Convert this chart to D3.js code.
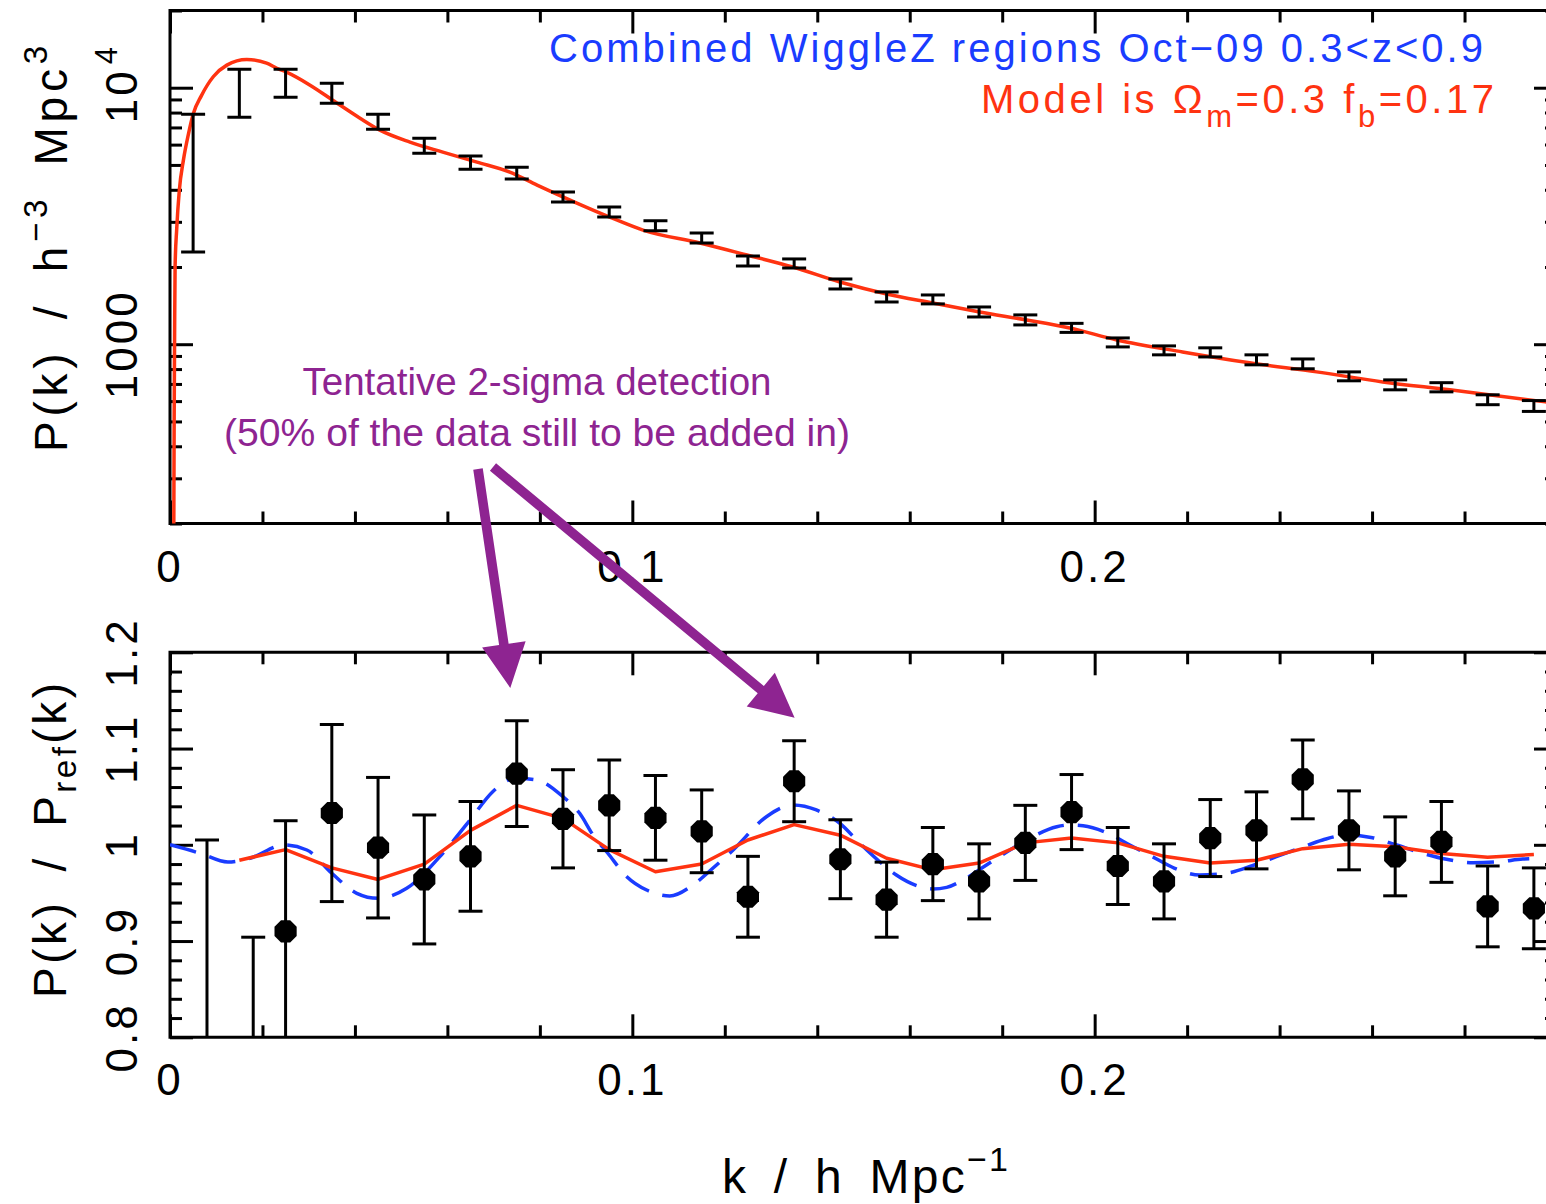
<!DOCTYPE html>
<html>
<head>
<meta charset="utf-8">
<script src="https://cdn.jsdelivr.net/npm/d3@7"></script>
<style>
  html, body { margin: 0; padding: 0; background: #ffffff; }
  svg { display: block; }
  text { font-family: "Liberation Sans", Arial, Helvetica, sans-serif; }
</style>
</head>
<body>
<script>
// ---- Measured power spectrum, P(k) in h^-3 Mpc^3 ----
const kTop = [0.005, 0.015, 0.025, 0.035, 0.045, 0.055, 0.065, 0.075, 0.085, 0.095,
              0.105, 0.115, 0.125, 0.135, 0.145, 0.155, 0.165, 0.175, 0.185, 0.195,
              0.205, 0.215, 0.225, 0.235, 0.245, 0.255, 0.265, 0.275, 0.285, 0.295];
const pkTop = [5086, 9740, 10494, 9556, 7389, 5958, 5114, 4652, 3751, 3279,
               2899, 2597, 2113, 2066, 1719, 1530, 1496, 1337, 1245, 1159,
               1017, 947, 930, 870, 839, 750, 695, 680, 608, 575];
const pkErr = [2798, 2065, 1310, 856, 496, 400, 299, 250, 168, 148,
               130, 117, 95, 84, 77, 69, 60, 60, 56, 47,
               41, 38, 38, 39, 37, 30, 31, 28, 27, 28];

// ---- Model curve (Omega_m = 0.3, f_b = 0.17) ----
const modelK = [0.0008, 0.0009, 0.0010, 0.0011, 0.00145, 0.0020, 0.0029, 0.0040, 0.0050, 0.0068,
                0.0094, 0.0123, 0.0166, 0.0209, 0.0231, 0.0252, 0.0303, 0.0352, 0.0411, 0.0454,
                0.0519, 0.0590, 0.0664, 0.0735, 0.0794, 0.0880, 0.0951, 0.1023, 0.1146, 0.1248,
                0.1347, 0.1449, 0.1550, 0.1650, 0.1751, 0.1853, 0.1946, 0.2048, 0.2190, 0.2335,
                0.2480, 0.2623, 0.2768, 0.2975, 0.3000];
const modelP = [150, 507, 1137, 2000, 2812, 3954, 5220, 6614, 7884, 9316,
                11057, 12246, 12887, 12458, 11909, 11493, 10226, 8939, 7607, 6831,
                6135, 5609, 5128, 4688, 4173, 3550, 3131, 2786, 2480, 2227,
                2000, 1748, 1570, 1448, 1336, 1243, 1157, 1039, 933, 846,
                780, 713, 664, 596, 588];

// ---- Ratio to the reference (no-wiggle) spectrum ----
const kRatio = [0.008, 0.018, 0.025, 0.035, 0.045, 0.055, 0.065, 0.075, 0.085, 0.095,
                0.105, 0.115, 0.125, 0.135, 0.145, 0.155, 0.165, 0.175, 0.185, 0.195,
                0.205, 0.215, 0.225, 0.235, 0.245, 0.255, 0.265, 0.275, 0.285, 0.295];
const ratio = [0.62, 0.70, 0.910, 1.033, 0.997, 0.964, 0.988, 1.074, 1.027, 1.041,
               1.028, 1.014, 0.946, 1.066, 0.985, 0.943, 0.980, 0.962, 1.002, 1.034,
               0.978, 0.962, 1.007, 1.015, 1.068, 1.015, 0.988, 1.003, 0.936, 0.934];
const ratioErr = [0.385, 0.204, 0.115, 0.092, 0.073, 0.067, 0.057, 0.055, 0.051, 0.047,
                  0.044, 0.043, 0.042, 0.042, 0.041, 0.039, 0.038, 0.039, 0.039, 0.039,
                  0.040, 0.039, 0.040, 0.040, 0.041, 0.041, 0.041, 0.042, 0.042, 0.042];

// Binned model ratio (red polyline)
const ratioModelK = [0.015, 0.025, 0.035, 0.045, 0.055, 0.065, 0.075, 0.085, 0.095, 0.105,
                     0.115, 0.125, 0.135, 0.145, 0.155, 0.165, 0.175, 0.185, 0.195, 0.205,
                     0.215, 0.225, 0.235, 0.245, 0.255, 0.265, 0.275, 0.285, 0.295];
const ratioModel = [0.984, 0.995, 0.976, 0.964, 0.980, 1.015, 1.041, 1.0275, 0.995, 0.972,
                    0.980, 1.005, 1.021, 1.010, 0.986, 0.974, 0.981, 1.002, 1.007, 1.002,
                    0.988, 0.981, 0.984, 0.996, 1.0005, 0.998, 0.991, 0.987, 0.990];

// Unbinned baryon wiggle curve (blue dashed)
const wiggleK = [0.000, 0.0065, 0.0125, 0.0173, 0.0246, 0.0296, 0.035, 0.0404, 0.045, 0.0512,
                 0.059, 0.0649, 0.0698, 0.0748, 0.0793, 0.085, 0.0886, 0.0915, 0.0947, 0.0988,
                 0.1031, 0.1081, 0.1131, 0.1174, 0.1218, 0.129, 0.1347, 0.1398, 0.1449, 0.1492,
                 0.1535, 0.1571, 0.1622, 0.165, 0.168, 0.1715, 0.1766, 0.1823, 0.1866, 0.1918,
                 0.1946, 0.1975, 0.2026, 0.2076, 0.2125, 0.2173, 0.2227, 0.2285, 0.2341, 0.2393,
                 0.2443, 0.2493, 0.2545, 0.2601, 0.2653, 0.2709, 0.2761, 0.2818, 0.2876, 0.2926,
                 0.2940];
const wiggleRatio = [1.000, 0.9912, 0.9821, 0.986, 0.9998, 0.9946, 0.9704, 0.9496, 0.9444, 0.9548,
                     0.9912, 1.0258, 1.0552, 1.0691, 1.0673, 1.050, 1.0327, 1.0102, 0.9912, 0.9669,
                     0.953, 0.9468, 0.9582, 0.9756, 0.9946, 1.0292, 1.0413, 1.0362, 1.0223, 1.0016,
                     0.9824, 0.9686, 0.9565, 0.9541, 0.9558, 0.9634, 0.979, 0.9964, 1.0084, 1.0188,
                     1.0206, 1.0198, 1.0126, 0.9998, 0.9876, 0.9756, 0.9686, 0.9704, 0.9783, 0.9876,
                     0.9964, 1.005, 1.0102, 1.0074, 0.9998, 0.9912, 0.9849, 0.9814, 0.9824, 0.9852,
                     0.9855];

// ---- Tick labels ----
const xTickVals = [0, 0.1, 0.2];
const xTickLabels = ["0", "0.1", "0.2"];
const ratioTickVals = [0.8, 0.9, 1.0, 1.1, 1.2];
const ratioTickLabels = ["0.8", "0.9", "1", "1.1", "1.2"];

// ---- Annotation arrow targets (k, ratio) ----
const arrowTipK = [0.0736, 0.1351];
const arrowTipRatio = [1.163, 1.132];

// =====================================================================
const W = 1546, H = 1204;
const RED = "#ff3311", BLUE = "#1a3cff", PURPLE = "#8e2491";

const svg = d3.select("body").append("svg").attr("width", W).attr("height", H);

const x = d3.scaleLinear().domain([0, 0.3]).range([170, 1557]);
const yTop = d3.scaleLog().domain([200, 20000]).range([523.5, 10.5]);
const yBot = d3.scaleLinear().domain([0.8, 1.2]).range([1037.3, 652.3]);

const defs = svg.append("defs");
defs.append("clipPath").attr("id", "clipTop").append("rect")
  .attr("x", x(0)).attr("y", yTop(20000)).attr("width", x(0.3) - x(0)).attr("height", yTop(200) - yTop(20000));
defs.append("clipPath").attr("id", "clipBot").append("rect")
  .attr("x", x(0)).attr("y", yBot(1.2)).attr("width", x(0.3) - x(0)).attr("height", yBot(0.8) - yBot(1.2));

const MAJ = 23, MIN = 12, LW = 3;
const xMajor = [0, 0.1, 0.2, 0.3];
const xMinor = d3.range(1, 15).map(i => +(i * 0.02).toFixed(2)).filter(v => Math.abs(v * 10 - Math.round(v * 10)) > 1e-6);

function tickGroup(axisGen, tx, ty, values, size) {
  const g = svg.append("g").attr("transform", `translate(${tx},${ty})`);
  g.call(axisGen.tickValues(values).tickSizeInner(-size).tickSizeOuter(0).tickFormat(""));
  g.select(".domain").remove();
  g.selectAll(".tick line").attr("stroke", "#000").attr("stroke-width", LW);
  g.selectAll(".tick text").remove();
  return g;
}

function frame(yTopPx, yBotPx) {
  svg.append("path")
    .attr("d", `M${x(0.3)},${yTopPx} L${x(0)},${yTopPx} L${x(0)},${yBotPx} L${x(0.3)},${yBotPx}`)
    .attr("fill", "none").attr("stroke", "#000").attr("stroke-width", LW)
    .attr("stroke-linecap", "square");
  svg.append("line").attr("x1", x(0.3)).attr("x2", x(0.3)).attr("y1", yTopPx).attr("y2", yBotPx)
    .attr("stroke", "#000").attr("stroke-width", LW);
}

// ---------------- Top panel: P(k) ----------------
const tTop = yTop(20000), tBot = yTop(200);
frame(tTop, tBot);
tickGroup(d3.axisBottom(x), 0, tBot, xMajor, MAJ);
tickGroup(d3.axisBottom(x), 0, tBot, xMinor, MIN);
tickGroup(d3.axisTop(x), 0, tTop, xMajor, MAJ);
tickGroup(d3.axisTop(x), 0, tTop, xMinor, MIN);
const logMajor = [1000, 10000];
const logMinor = yTop.ticks().filter(v => logMajor.indexOf(v) < 0);
tickGroup(d3.axisLeft(yTop), x(0), 0, logMajor, MAJ);
tickGroup(d3.axisLeft(yTop), x(0), 0, logMinor, MIN);
tickGroup(d3.axisRight(yTop), x(0.3), 0, logMajor, MAJ);
tickGroup(d3.axisRight(yTop), x(0.3), 0, logMinor, MIN);

// model curve
const topLine = d3.line().x((d, i) => x(modelK[i])).y((d, i) => yTop(modelP[i])).curve(d3.curveMonotoneX);
svg.append("path").attr("clip-path", "url(#clipTop)")
  .attr("d", topLine(modelK)).attr("fill", "none").attr("stroke", RED).attr("stroke-width", 3.5);

// error bars
const CAP = 12;
const ebTop = svg.append("g").attr("clip-path", "url(#clipTop)").attr("stroke", "#000").attr("stroke-width", LW);
kTop.forEach((k, i) => {
  const y1 = yTop(pkTop[i] + pkErr[i]), y2 = yTop(pkTop[i] - pkErr[i]), cx = x(k);
  ebTop.append("line").attr("x1", cx).attr("x2", cx).attr("y1", y1).attr("y2", y2);
  ebTop.append("line").attr("x1", cx - CAP).attr("x2", cx + CAP).attr("y1", y1).attr("y2", y1);
  ebTop.append("line").attr("x1", cx - CAP).attr("x2", cx + CAP).attr("y1", y2).attr("y2", y2);
});

// tick labels
const labelFont = 44;
xTickVals.forEach((v, i) => {
  svg.append("text").attr("x", x(v)).attr("y", 582).attr("text-anchor", "middle")
    .attr("font-size", labelFont).attr("letter-spacing", 3).text(xTickLabels[i]);
  svg.append("text").attr("x", x(v)).attr("y", 1095).attr("text-anchor", "middle")
    .attr("font-size", labelFont).attr("letter-spacing", 3).text(xTickLabels[i]);
});
{
  const t1 = svg.append("text").attr("transform", `translate(137,${yTop(10000) - 4}) rotate(-90)`)
    .attr("text-anchor", "middle").attr("font-size", labelFont).attr("letter-spacing", 3);
  t1.append("tspan").text("10");
  t1.append("tspan").attr("dy", -20).attr("dx", 4).attr("font-size", 31).text("4");
  svg.append("text").attr("transform", `translate(137,${yTop(1000)}) rotate(-90)`)
    .attr("text-anchor", "middle").attr("font-size", labelFont).attr("letter-spacing", 3).text("1000");
}

// y title (top)
{
  const t = svg.append("text").attr("transform", `translate(67,452) rotate(-90)`)
    .attr("font-size", 46).attr("textLength", 406).attr("lengthAdjust", "spacing")
    .attr("word-spacing", 12);
  t.append("tspan").text("P(k) / h");
  t.append("tspan").attr("dy", -20).attr("font-size", 33).text("\u22123");
  t.append("tspan").attr("dy", 20).text(" Mpc");
  t.append("tspan").attr("dy", -20).attr("font-size", 33).text("3");
}

// panel legend texts
svg.append("text").attr("x", 549).attr("y", 62).attr("font-size", 40).attr("fill", BLUE)
  .attr("textLength", 934).attr("lengthAdjust", "spacing")
  .text("Combined WiggleZ regions Oct\u221209 0.3<z<0.9");
{
  const t = svg.append("text").attr("x", 981).attr("y", 113).attr("font-size", 40).attr("fill", RED)
    .attr("textLength", 513).attr("lengthAdjust", "spacing");
  t.append("tspan").text("Model is \u03A9");
  t.append("tspan").attr("dy", 14).attr("font-size", 31).text("m");
  t.append("tspan").attr("dy", -14).text("=0.3 f");
  t.append("tspan").attr("dy", 14).attr("font-size", 31).text("b");
  t.append("tspan").attr("dy", -14).text("=0.17");
}

// ---------------- Bottom panel: ratio ----------------
const bTop = yBot(1.2), bBot = yBot(0.8);
frame(bTop, bBot);
tickGroup(d3.axisBottom(x), 0, bBot, xMajor, MAJ);
tickGroup(d3.axisBottom(x), 0, bBot, xMinor, MIN);
tickGroup(d3.axisTop(x), 0, bTop, xMajor, MAJ);
tickGroup(d3.axisTop(x), 0, bTop, xMinor, MIN);
const rMinor = d3.range(0, 21).map(i => +(0.8 + i * 0.02).toFixed(2)).filter(v => ratioTickVals.indexOf(v) < 0);
tickGroup(d3.axisLeft(yBot), x(0), 0, ratioTickVals, MAJ);
tickGroup(d3.axisLeft(yBot), x(0), 0, rMinor, MIN);
tickGroup(d3.axisRight(yBot), x(0.3), 0, ratioTickVals, MAJ);
tickGroup(d3.axisRight(yBot), x(0.3), 0, rMinor, MIN);

const gBot = svg.append("g").attr("clip-path", "url(#clipBot)");
gBot.append("path")
  .attr("d", d3.line().x((d, i) => x(wiggleK[i])).y((d, i) => yBot(wiggleRatio[i])).curve(d3.curveMonotoneX)(wiggleK))
  .attr("fill", "none").attr("stroke", BLUE).attr("stroke-width", 3.5).attr("stroke-dasharray", "27,14");
gBot.append("path")
  .attr("d", d3.line().x((d, i) => x(ratioModelK[i])).y((d, i) => yBot(ratioModel[i]))(ratioModelK))
  .attr("fill", "none").attr("stroke", RED).attr("stroke-width", 3.5).attr("stroke-linejoin", "round");

const ebBot = gBot.append("g").attr("stroke", "#000").attr("stroke-width", LW);
kRatio.forEach((k, i) => {
  const y1 = yBot(ratio[i] + ratioErr[i]), y2 = yBot(ratio[i] - ratioErr[i]), cx = x(k);
  ebBot.append("line").attr("x1", cx).attr("x2", cx).attr("y1", y1).attr("y2", y2);
  ebBot.append("line").attr("x1", cx - CAP).attr("x2", cx + CAP).attr("y1", y1).attr("y2", y1);
  ebBot.append("line").attr("x1", cx - CAP).attr("x2", cx + CAP).attr("y1", y2).attr("y2", y2);
});
// octagonal plot symbols
const octagon = {
  draw(ctx, size) {
    const r = Math.sqrt(size / (2 * Math.SQRT2));
    for (let j = 0; j < 8; j++) {
      const a = Math.PI / 8 + j * Math.PI / 4;
      const px = r * Math.cos(a), py = r * Math.sin(a);
      if (j === 0) ctx.moveTo(px, py); else ctx.lineTo(px, py);
    }
    ctx.closePath();
  }
};
gBot.selectAll("path.pt").data(kRatio).join("path").attr("class", "pt")
  .attr("transform", (k, i) => `translate(${x(k)},${yBot(ratio[i])})`)
  .attr("d", d3.symbol().type(octagon).size(2 * Math.SQRT2 * 12 * 12)())
  .attr("fill", "#000");

ratioTickVals.forEach((v, i) => {
  svg.append("text").attr("transform", `translate(137,${yBot(v)}) rotate(-90)`)
    .attr("text-anchor", "middle").attr("font-size", labelFont).attr("letter-spacing", 3)
    .text(ratioTickLabels[i]);
});

// y title (bottom)
{
  const t = svg.append("text").attr("transform", `translate(66,998) rotate(-90)`)
    .attr("font-size", 46).attr("textLength", 315).attr("lengthAdjust", "spacing")
    .attr("word-spacing", 12);
  t.append("tspan").text("P(k) / P");
  t.append("tspan").attr("dy", 10).attr("font-size", 33).text("ref");
  t.append("tspan").attr("dy", -10).text("(k)");
}

// x title
{
  const t = svg.append("text").attr("x", 722).attr("y", 1193).attr("font-size", 48)
    .attr("textLength", 286).attr("lengthAdjust", "spacing").attr("word-spacing", 10);
  t.append("tspan").text("k / h Mpc");
  t.append("tspan").attr("dy", -22).attr("font-size", 34).text("\u22121");
}

// ---------------- Annotation ----------------
const noteX = 537, noteY1 = 395, noteY2 = 446;
svg.append("text").attr("x", noteX).attr("y", noteY1).attr("text-anchor", "middle")
  .attr("font-family", "Lato, 'Open Sans', sans-serif").attr("font-size", 39).attr("fill", PURPLE)
  .attr("textLength", 469).attr("lengthAdjust", "spacingAndGlyphs")
  .text("Tentative 2-sigma detection");
svg.append("text").attr("x", noteX).attr("y", noteY2).attr("text-anchor", "middle")
  .attr("font-family", "Lato, 'Open Sans', sans-serif").attr("font-size", 39).attr("fill", PURPLE)
  .attr("textLength", 626).attr("lengthAdjust", "spacingAndGlyphs")
  .text("(50% of the data still to be added in)");

const tails = [[noteX - 59, noteY2 + 23], [noteX - 44, noteY2 + 21]];
function arrowPath(x0, y0, x1, y1) {
  const dx = x1 - x0, dy = y1 - y0, L = Math.hypot(dx, dy);
  const ux = dx / L, uy = dy / L, nx = -uy, ny = ux;
  const hl = 44, hw = 22, sw = 4.8;
  const bx = x1 - ux * hl, by = y1 - uy * hl;
  const p = d3.path();
  p.moveTo(x0 + nx * sw, y0 + ny * sw);
  p.lineTo(bx + nx * sw, by + ny * sw);
  p.lineTo(bx + nx * hw, by + ny * hw);
  p.lineTo(x1, y1);
  p.lineTo(bx - nx * hw, by - ny * hw);
  p.lineTo(bx - nx * sw, by - ny * sw);
  p.lineTo(x0 - nx * sw, y0 - ny * sw);
  p.closePath();
  return p.toString();
}
arrowTipK.forEach((k, i) => {
  svg.append("path").attr("d", arrowPath(tails[i][0], tails[i][1], x(k), yBot(arrowTipRatio[i])))
    .attr("fill", PURPLE);
});
</script>
</body>
</html>
